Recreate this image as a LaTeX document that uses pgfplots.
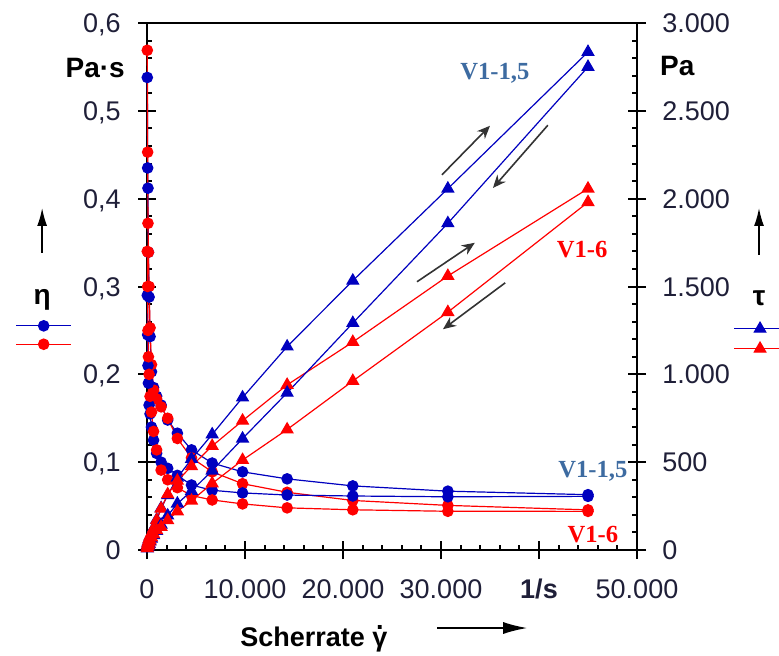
\documentclass[border=0pt]{standalone}
\usepackage{fontspec}
\setmainfont{Liberation Sans}
\newfontfamily\serifb{Liberation Serif}
\usepackage{pgfplots}
\usepackage{pgfplotstable}
\pgfplotsset{compat=1.18}
\usetikzlibrary{arrows.meta}

\definecolor{vblue}{rgb}{0,0,0.75}
\definecolor{vred}{rgb}{1,0,0}
\definecolor{lblblue}{rgb}{0.24,0.42,0.63}
\definecolor{ticktext}{rgb}{0.12,0.12,0.22}
\definecolor{arr}{gray}{0.2}

% shear rate g [1/s], viscosity up/down [Pa s], shear stress up/down [Pa]
\pgfplotstableread{
g      eu     ed     tu    td
30     0.538  0.290  16    9
67     0.435  0.245  29    16
99     0.412  0.210  41    21
145    0.339  0.190  49    28
213    0.288  0.165  61    35
312    0.243  0.155  76    48
457    0.203  0.140  93    64
670    0.185  0.125  124   84
983    0.175  0.110  172   108
1440   0.165  0.100  238   144
2110   0.148  0.093  312   196
3100   0.133  0.085  412   264
4540   0.114  0.074  518   336
6650   0.099  0.068  658   452
9750   0.089  0.065  868   634
14300  0.081  0.0626 1158  895
21000  0.073  0.0615 1533  1292
30700  0.067  0.0606 2057  1860
45000  0.063  0.0611 2835  2750
}\vone

\pgfplotstableread{
g      eu     ed     tu    td
30     0.569  0.340  17    10
67     0.453  0.300  30    20
99     0.372  0.250  37    25
145    0.339  0.220  49    32
213    0.300  0.200  64    43
312    0.253  0.175  79    55
457    0.211  0.157  96    72
670    0.182  0.135  122   90
983    0.172  0.114  169   112
1440   0.163  0.091  235   131
2110   0.150  0.080  317   169
3100   0.127  0.071  394   220
4540   0.105  0.062  477   281
6650   0.089  0.057  592   379
9750   0.0755 0.0525 736   512
14300  0.0657 0.048  940   686
21000  0.0564 0.0458 1184  962
30700  0.0508 0.0441 1560  1354
45000  0.0457 0.044  2057  1980
}\vsix

\newcommand{\gdot}{\ooalign{γ\cr\hidewidth\raisebox{0.62em}{.}\hidewidth\cr}}

\pgfplotsset{
  common/.style={
    at={(0,0)}, anchor=south west, scale only axis,
    width=245pt, height=263.5pt, xmin=0, xmax=50000, clip=false,
    scaled x ticks=false, scaled y ticks=false,
    axis line style={line width=1pt},
    tick align=center, major tick length=9pt, minor tick length=2.5pt,
    tick style={line width=1pt, black},
    ticklabel style={font=\fontsize{13.5}{16}\selectfont, text=ticktext, inner sep=0pt},
  },
  etaline/.style={line width=0.6pt, mark=*, mark size=2.6pt},
  tauline/.style={line width=0.6pt, mark=triangle*, mark size=3.3pt},
}

\begin{document}
\begin{tikzpicture}
\useasboundingbox (-73.5pt,-52.5pt) rectangle (316pt,275pt);

\begin{axis}[common, name=ax,
  ymin=0, ymax=0.6,
  xtick={0,10000,20000,30000,40000,50000},
  xticklabels={0,10.000,20.000,30.000,\textbf{1/s},50.000},
  ytick={0,0.1,0.2,0.3,0.4,0.5,0.6},
  yticklabels={0,{0,1},{0,2},{0,3},{0,4},{0,5},{0,6}},
  minor x tick num=4, minor y tick num=4,
  xtick pos=bottom, ytick pos=left,
  minor x tick style={yshift=1.25pt}, minor y tick style={xshift=1.25pt},
  xticklabel style={anchor=base, yshift=-19.75pt},
  yticklabel style={anchor=base east, xshift=-8.5pt, yshift=-4.8pt},
  legend style={at={(-0.269,0.436)}, anchor=north west, draw=none, fill=none,
    inner sep=0pt, row sep=4pt, nodes={inner sep=0pt}},
  legend image code/.code={\draw[mark repeat=2,mark phase=2]
    plot coordinates {(0pt,0pt) (13.75pt,0pt) (27.5pt,0pt)};},
]
\addplot[vblue, etaline] table[x=g, y=eu] {\vone};
\addlegendentry{}
\addplot[vred, etaline] table[x=g, y=eu] {\vsix};
\addlegendentry{}
\addplot[vblue, etaline, forget plot] table[x=g, y=ed] {\vone};
\addplot[vred, etaline, forget plot] table[x=g, y=ed] {\vsix};

% series labels and ramp arrows
\node[font=\serifb\bfseries\fontsize{12.3}{14}\selectfont, text=lblblue] at (rel axis cs:0.710,0.905) {V1-1,5};
\node[font=\serifb\bfseries\fontsize{12.3}{14}\selectfont, text=vred] at (rel axis cs:0.888,0.571) {V1-6};
\node[font=\serifb\bfseries\fontsize{12.3}{14}\selectfont, text=lblblue] at (rel axis cs:0.910,0.150) {V1-1,5};
\node[font=\serifb\bfseries\fontsize{12.3}{14}\selectfont, text=vred] at (rel axis cs:0.910,0.030) {V1-6};
\draw[arr, line width=0.8pt, -{Stealth[length=6.5pt,width=5.5pt]}] (rel axis cs:0.602,0.712) -- (rel axis cs:0.700,0.805);
\draw[arr, line width=0.8pt, -{Stealth[length=6.5pt,width=5.5pt]}] (rel axis cs:0.818,0.806) -- (rel axis cs:0.706,0.687);
\draw[arr, line width=0.8pt, -{Stealth[length=6.5pt,width=5.5pt]}] (rel axis cs:0.551,0.509) -- (rel axis cs:0.669,0.583);
\draw[arr, line width=0.8pt, -{Stealth[length=6.5pt,width=5.5pt]}] (rel axis cs:0.731,0.507) -- (rel axis cs:0.604,0.419);

% axis descriptions
\node[font=\bfseries\fontsize{14}{16}\selectfont, anchor=east] at (axis description cs:-0.031,0.915) {Pa·s};
\node[font=\bfseries\fontsize{14}{16}\selectfont, anchor=west] at (axis description cs:1.033,0.918) {Pa};
\draw[line width=0.8pt, -{Latex[length=9pt,width=5pt]}] (axis description cs:-0.214,0.5636) -- (axis description cs:-0.214,0.649);
\node[font=\bfseries\fontsize{14}{16}\selectfont] at (axis description cs:-0.214,0.474) {η};
\draw[line width=0.8pt, -{Latex[length=9pt,width=5pt]}] (axis description cs:1.249,0.560) -- (axis description cs:1.249,0.649);
\node[font=\bfseries\fontsize{14}{16}\selectfont] at (axis description cs:1.249,0.478) {τ};
\node[font=\bfseries\fontsize{13.5}{16}\selectfont, anchor=west] at (axis description cs:0.176,-0.165) {Scherrate \gdot};
\draw[line width=0.8pt, -{Latex[length=12pt,width=6pt]}] (axis description cs:0.592,-0.148) -- (axis description cs:0.776,-0.148);
\end{axis}

\begin{axis}[common,
  ymin=0, ymax=3000, axis x line=none, axis y line*=right,
  ytick={0,500,1000,1500,2000,2500,3000},
  yticklabels={0,500,1.000,1.500,2.000,2.500,3.000},
  minor y tick num=4, minor y tick style={xshift=-1.25pt},
  yticklabel style={anchor=base west, xshift=8pt, yshift=-4.8pt},
  legend style={at={(1.196,0.433)}, anchor=north west, draw=none, fill=none,
    inner sep=0pt, row sep=5pt, nodes={inner sep=0pt}},
  legend image code/.code={\draw[mark repeat=2,mark phase=2]
    plot coordinates {(0pt,0pt) (13pt,0pt) (26pt,0pt)};},
]
\addplot[vblue, tauline] table[x=g, y=tu] {\vone};
\addlegendentry{}
\addplot[vred, tauline] table[x=g, y=tu] {\vsix};
\addlegendentry{}
\addplot[vblue, tauline, forget plot] table[x=g, y=td] {\vone};
\addplot[vred, tauline, forget plot] table[x=g, y=td] {\vsix};
\end{axis}
\end{tikzpicture}
\end{document}
